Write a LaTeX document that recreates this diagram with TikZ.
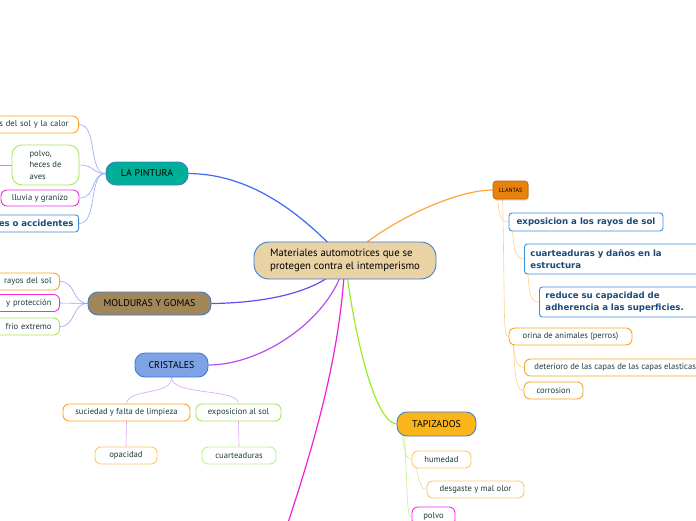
\documentclass[tikz,border=0pt]{standalone}
\usepackage{fontspec}
\setmainfont{PT Sans}
\newfontfamily\vfont{DejaVu Sans}
\usetikzlibrary{backgrounds,shadows}
\definecolor{bordblue}{HTML}{3B7DD8}
\definecolor{ctan}{HTML}{E9D3A5}
\definecolor{cteal}{HTML}{00B096}
\definecolor{cbrown}{HTML}{A08658}
\definecolor{ccorn}{HTML}{7FA2E4}
\definecolor{camber}{HTML}{FBB51B}
\definecolor{cllant}{HTML}{E8820E}
\definecolor{borange}{HTML}{F5A623}
\definecolor{blorange}{HTML}{FFC766}
\definecolor{bgreen}{HTML}{A6E85A}
\definecolor{blgreen}{HTML}{BDF08A}
\definecolor{bmag}{HTML}{F030E0}
\definecolor{bblue}{HTML}{3A8EDB}
\definecolor{leaftext}{HTML}{1D3C3C}
\definecolor{btext}{HTML}{1B4A78}
\definecolor{kpint}{HTML}{93A9F5}
\definecolor{kmold}{HTML}{A59CF2}
\definecolor{kcris}{HTML}{D9A3F5}
\definecolor{kllan}{HTML}{FFD08A}
\definecolor{ktapi}{HTML}{C5F08A}
\definecolor{mpint}{HTML}{3E6AF2}
\definecolor{mllan}{HTML}{FFA63A}
\definecolor{mmold}{HTML}{6A4AF0}
\definecolor{mcris}{HTML}{B550F0}
\definecolor{mmag}{HTML}{F020D8}
\definecolor{mtapi}{HTML}{99EE2A}
\tikzset{
  topic/.style={draw=bordblue, line width=0.9pt, rounded corners=10pt, font=\fontsize{9.9}{12}\selectfont, text=black, inner sep=0pt},
  leaf/.style={rounded corners=6pt, line width=0.9pt, fill=white, font=\fontsize{8.6}{10.5}\selectfont, text=leaftext, inner sep=0pt, minimum height=17pt},
  bleaf/.style={leaf, draw=bblue, font=\vfont\bfseries\fontsize{8.6}{11.5}\selectfont, text=btext},
  mainline/.style={line width=1.2pt},
  subline/.style={line width=0.6pt}
}
\begin{document}
\begin{tikzpicture}[x=1pt,y=-1pt]
\useasboundingbox (0,0) rectangle (696,520);
% central
\node[draw=bordblue, line width=0.9pt, fill=ctan, rounded corners=15pt, minimum width=182pt, minimum height=37pt, align=left, font=\fontsize{10.7}{13.5}\selectfont, inner sep=0pt] (c) at (345,260.5) {Materiales automotrices que se\\protegen contra el intemperismo};
% topics
\node[topic, fill=cteal, minimum width=82pt, minimum height=23pt] (lp) at (147,173.5) {LA PINTURA};
\node[topic, fill=cbrown, minimum width=123pt, minimum height=23pt] (mg) at (149.5,303.5) {MOLDURAS Y GOMAS};
\node[topic, fill=ccorn, minimum width=73pt, minimum height=24pt] (cr) at (171.5,365) {CRISTALES};
\node[topic, fill=camber, minimum width=79pt, minimum height=24pt] (tp) at (436.5,424) {TAPIZADOS};
\node[draw=cllant!80!black, line width=0.6pt, fill=cllant, rounded corners=3pt, minimum width=35pt, minimum height=18pt, inner sep=0pt, font=\fontsize{6}{6}\selectfont, drop shadow={opacity=0.3, shadow xshift=1pt, shadow yshift=-1.5pt}] (ll) at (510.5,190) {LLANTAS};
% pintura leaves
\node[leaf, draw=borange, anchor=east, text width=130pt, align=right, inner xsep=10pt] (p1) at (79,124.5) {os del sol y la calor};
\node[leaf, draw=bgreen, minimum width=67pt, minimum height=40pt, rounded corners=10pt, align=left, font=\fontsize{8.6}{11.5}\selectfont] (p2) at (45.5,165) {polvo,\\heces de\\aves};
\node[leaf, draw=bmag, minimum width=78pt, minimum height=16pt] (p3) at (40,198) {lluvia y granizo};
\node[bleaf, anchor=east, text width=130pt, align=right, inner xsep=5pt, rounded corners=3pt] (p4) at (79,223.5) {es o accidentes};
% molduras leaves
\node[leaf, draw=borange, anchor=east, text width=100pt, align=right, inner xsep=8pt] (m1) at (60,281.5) {rayos del sol};
\node[leaf, draw=bmag, anchor=east, text width=100pt, align=right, inner xsep=8pt] (m2) at (60,303) {y protección};
\node[leaf, draw=bgreen, anchor=east, text width=100pt, align=right, inner xsep=8pt] (m3) at (60,326.5) {frio extremo};
% cristales leaves
\node[leaf, draw=borange, minimum width=127pt] (c1) at (126.5,412.5) {suciedad y falta de limpieza};
\node[leaf, draw=bgreen, minimum width=85pt] (c2) at (238.5,412.5) {exposicion al sol};
\node[leaf, draw=blorange, minimum width=62pt] (c3) at (126,455.5) {opacidad};
\node[leaf, draw=blgreen, minimum width=74pt] (c4) at (239,455.5) {cuarteaduras};
% llantas leaves
\node[bleaf, minimum width=154pt, minimum height=18pt, rounded corners=3pt] (l1) at (586,222) {exposicion a los rayos de sol};
\node[bleaf, anchor=west, minimum height=30pt, text width=170pt, align=left, inner xsep=6pt, rounded corners=3pt] (l2) at (524,259) {cuarteaduras y daños en la\\estructura};
\node[bleaf, anchor=west, minimum height=30pt, text width=160pt, align=left, inner xsep=6pt, rounded corners=3pt] (l3) at (539,302) {reduce su capacidad de\\adherencia a las superficies.};
\node[leaf, draw=borange, minimum width=123pt] (l4) at (570.5,336.5) {orina de animales (perros)};
\node[leaf, draw=borange, anchor=west, inner xsep=10pt] (l5) at (524,367.5) {deterioro de las capas de las capas elasticas};
\node[leaf, draw=borange, minimum width=59pt] (l6) at (553.5,390.5) {corrosion};
% tapizados leaves
\node[leaf, draw=blorange, minimum width=59pt] (t1) at (441.5,459.5) {humedad};
\node[leaf, draw=blorange, minimum width=97pt] (t2) at (475.5,489.5) {desgaste y mal olor};
\node[leaf, draw=bmag, minimum width=43pt, minimum height=19pt] (t3) at (433.5,516.5) {polvo};
% free ends
\coordinate (pL) at (-5,165);
\coordinate (mEnd) at (285,532);
\begin{scope}[on background layer]
\fill[white] (0,0) rectangle (696,520);
% main connectors
\draw[mainline, mpint] (c.center) .. controls (290,200) and (240,174) .. (lp.east);
\draw[mainline, mllan] (c.center) .. controls (385,222) and (455,190) .. (ll.west);
\draw[mainline, mmold] (c.center) .. controls (325,292) and (265,303) .. (mg.east);
\draw[mainline, mcris] (c.center) .. controls (335,315) and (265,365) .. (cr.east);
\draw[mainline, mmag] (c.center) .. controls (340,360) and (312,450) .. (mEnd);
\draw[mainline, mtapi] (c.center) .. controls (355,340) and (375,422) .. (tp.west);
% pintura
\draw[subline, kpint] (lp.west) .. controls (88,174) and (98,124.5) .. (p1.east);
\draw[subline, kpint] (lp.west) .. controls (92,174) and (95,165) .. (p2.east);
\draw[subline, kpint] (lp.west) .. controls (90,174) and (97,198) .. (p3.east);
\draw[subline, kpint] (lp.west) .. controls (88,174) and (98,223.5) .. (p4.east);
\draw[subline, kpint] (pL) -- (p2.west);
% molduras
\draw[subline, kmold] (mg.west) .. controls (72,303) and (76,281.5) .. (m1.east);
\draw[subline, kmold] (mg.west) -- (m2.east);
\draw[subline, kmold] (mg.west) .. controls (72,303) and (76,326.5) .. (m3.east);
% cristales
\draw[subline, kcris] (cr.south) .. controls (172,396) and (128,388) .. (c1.north);
\draw[subline, kcris] (cr.south) .. controls (172,396) and (238,388) .. (c2.north);
\draw[subline, kcris] (c1.south) -- (c3.north);
\draw[subline, kcris] (c2.south) -- (c4.north);
% llantas
\draw[subline, kllan] ([xshift=5pt]ll.south west) .. controls (499,218) and (502,222) .. (l1.west);
\draw[subline, kllan] ([xshift=4pt]l1.south west) .. controls (514,254) and (517,259) .. (l2.west);
\draw[subline, kllan] ([xshift=4pt]l2.south west) .. controls (529,297) and (532,302) .. (l3.west);
\draw[subline, kllan] ([xshift=10pt]ll.south west) .. controls (505,320) and (503,336.5) .. (l4.west);
\draw[subline, kllan] ([xshift=5pt]l4.south west) .. controls (515,362) and (518,367.5) .. (l5.west);
\draw[subline, kllan] ([xshift=5pt]l4.south west) .. controls (515,385) and (518,390.5) .. (l6.west);
% tapizados
\draw[subline, ktapi] ([xshift=6pt]tp.south west) .. controls (405,454) and (407,459.5) .. (t1.west);
\draw[subline, ktapi] ([xshift=5pt]t1.south west) .. controls (419,484) and (422,489.5) .. (t2.west);
\draw[subline, ktapi] ([xshift=8pt]tp.south west) .. controls (408,505) and (407,516.5) .. (t3.west);
\end{scope}
\end{tikzpicture}
\end{document}
